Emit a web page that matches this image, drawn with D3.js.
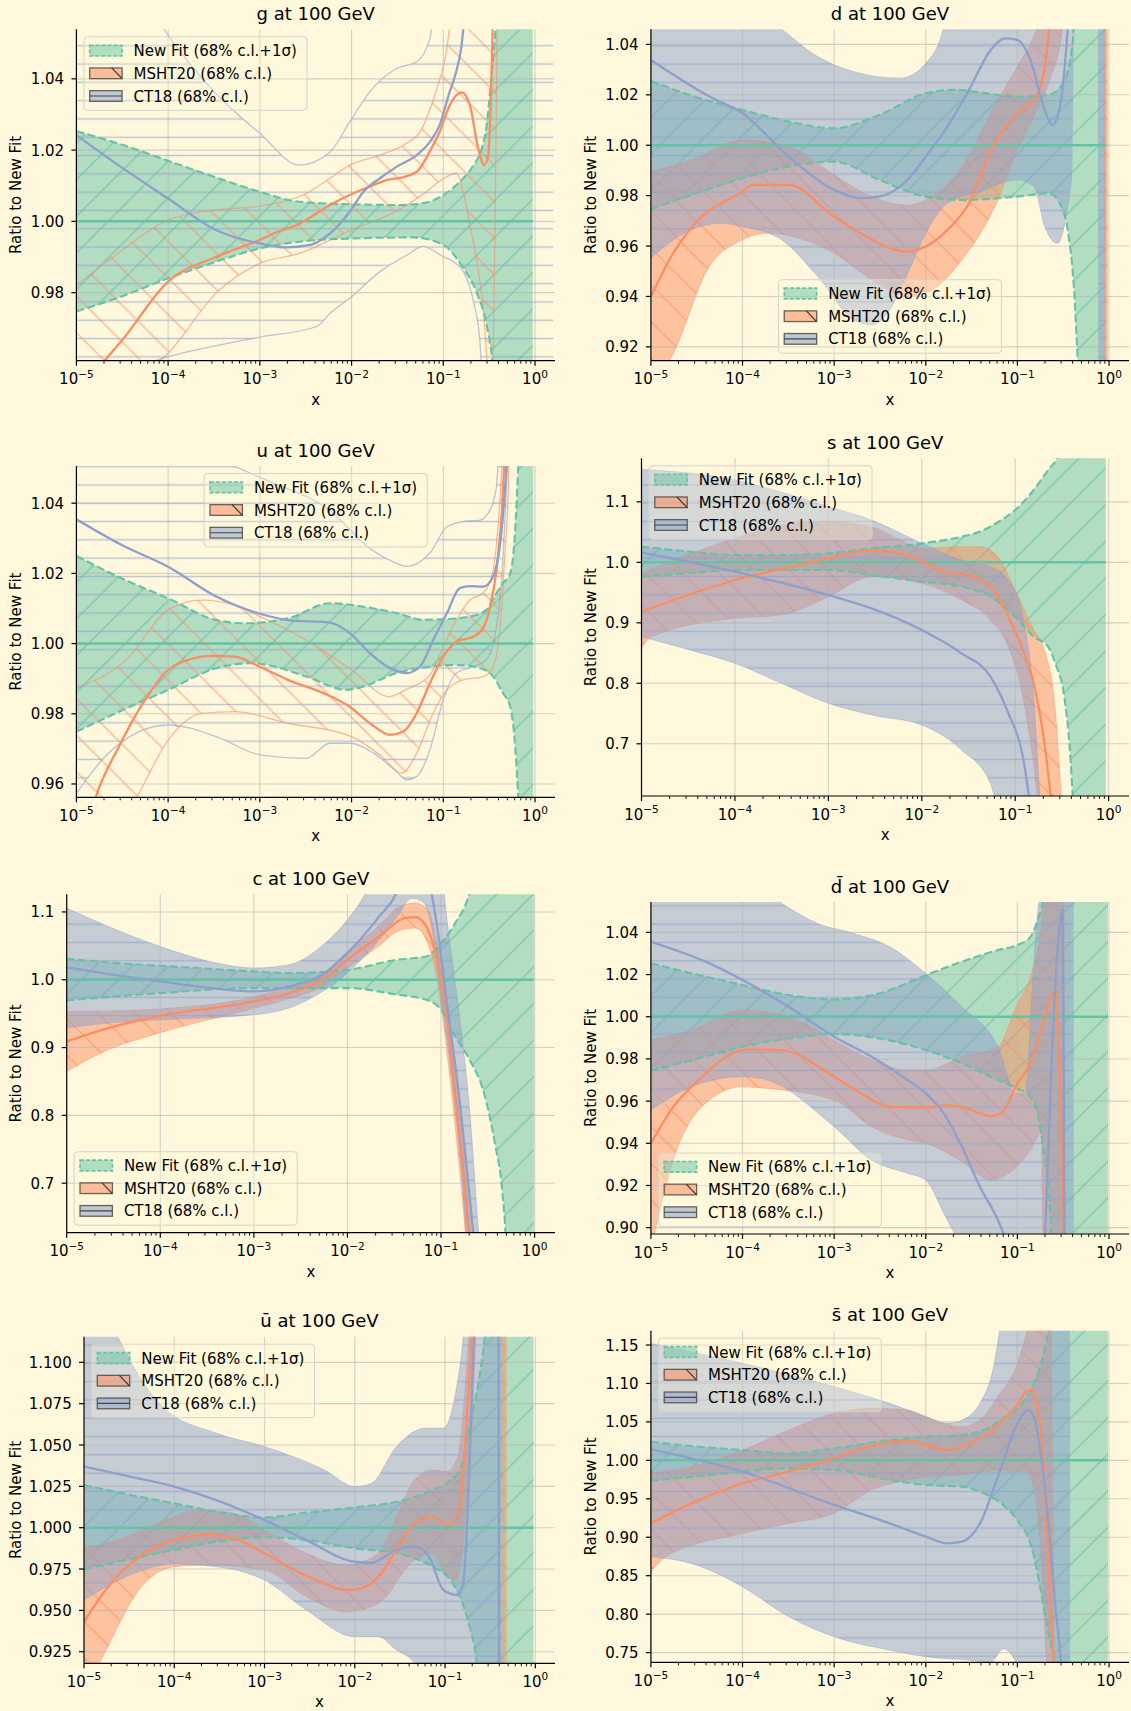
<!DOCTYPE html>
<html>
<head>
<meta charset="utf-8">
<script src="https://cdn.jsdelivr.net/npm/d3@7"></script>
<style>
  html, body { margin: 0; padding: 0; background: #fff8dc; }
  svg { display: block; }
  text { font-family: "DejaVu Sans", sans-serif; fill: #000; }
</style>
</head>
<body>
<svg id="fig" width="1131" height="1711"></svg>
<script>
// Ratio of each PDF set to the New Fit central value, Q = 100 GeV.
// Every series is a list of [log10(x), ratio] pairs.

const xTickExps = [-5, -4, -3, -2, -1, 0];
const legendLabels = ["New Fit (68% c.l.+1\u03c3)", "MSHT20 (68% c.l.)", "CT18 (68% c.l.)"];

// ---------- g ----------
const gTicks = [0.98, 1.00, 1.02, 1.04];
const gNewHi = [[-5,1.0253],[-4.5,1.0215],[-4,1.017],[-3.5,1.0125],[-3,1.0083],[-2.57,1.0055],[-2,1.0048],[-1.5,1.0046],[-1.2,1.0052],[-1,1.0074],[-0.82,1.0111],[-0.67,1.0158],[-0.58,1.0205],[-0.527,1.027],[-0.49,1.0364],[-0.456,1.046],[-0.42,1.058],[-0.38,1.08],[-0.025,1.08]];
const gNewLo = [[-5,0.9747],[-4.5,0.979],[-4,0.984],[-3.5,0.9885],[-3,0.9924],[-2.57,0.9943],[-2,0.9952],[-1.33,0.9955],[-1,0.9934],[-0.78,0.9868],[-0.64,0.9803],[-0.527,0.9709],[-0.47,0.962],[-0.43,0.95],[-0.025,0.95]];
const gMshtC = [[-5,0.952],[-4.69,0.961],[-4.5,0.9667],[-4,0.9831],[-3.48,0.990],[-3,0.9948],[-2.85,0.9966],[-2.57,0.9993],[-2.235,1.0046],[-2.02,1.0074],[-1.76,1.0102],[-1.62,1.0116],[-1.42,1.0125],[-1.27,1.0144],[-1.15,1.0195],[-1.04,1.0251],[-0.93,1.0326],[-0.8,1.0362],[-0.71,1.0326],[-0.62,1.0205],[-0.554,1.0158],[-0.51,1.0186],[-0.484,1.0317],[-0.456,1.06],[-0.43,1.08]];
const gMshtHi = [[-5,0.9821],[-4.6,0.99],[-4,1.0004],[-3.48,1.0032],[-3,1.0043],[-2.49,1.0079],[-2.235,1.0121],[-2.02,1.0158],[-1.69,1.0186],[-1.4,1.0219],[-1.255,1.0251],[-1.07,1.0373],[-0.98,1.0457],[-0.92,1.056],[-0.8,1.07],[-0.4,1.08]];
const gMshtLo = [[-5,0.945],[-4.4,0.955],[-4,0.963],[-3.48,0.9798],[-3,0.9882],[-2.57,0.991],[-2,0.9976],[-1.5,1.003],[-1.2,1.008],[-1,1.012],[-0.855,1.0135],[-0.78,1.008],[-0.71,0.999],[-0.64,0.9896],[-0.565,0.9756],[-0.52,0.96],[-0.47,0.95],[-0.44,0.99],[-0.41,1.06],[-0.4,1.08]];
const gCtC = [[-5,1.0242],[-4.5,1.015],[-4,1.0064],[-3.48,0.9976],[-3,0.9938],[-2.73,0.9927],[-2.45,0.9934],[-2.235,0.9966],[-2.02,1.0027],[-1.87,1.0083],[-1.69,1.0121],[-1.51,1.0153],[-1.29,1.0186],[-1.146,1.0223],[-1.04,1.027],[-0.93,1.0364],[-0.87,1.041],[-0.8,1.0495],[-0.76,1.06]];
const gCtHi = [[-5,1.1],[-4.1,1.056],[-3.48,1.0359],[-3,1.0247],[-2.57,1.0158],[-2.235,1.0195],[-2.02,1.0279],[-1.8,1.0364],[-1.51,1.0429],[-1.29,1.0448],[-1.146,1.0513],[-1.05,1.07],[0.2,1.07]];
const gCtLo = [[-5,0.955],[-4.2,0.9605],[-4,0.962],[-3,0.9675],[-2.38,0.9705],[-2.235,0.9742],[-2.02,0.9784],[-1.69,0.9859],[-1.4,0.9905],[-1.22,0.9929],[-1,0.9901],[-0.89,0.9887],[-0.78,0.9859],[-0.67,0.9774],[-0.6,0.9662],[-0.57,0.955],[0.2,0.955]];

// ---------- d ----------
const dTicks = [0.92, 0.94, 0.96, 0.98, 1.00, 1.02, 1.04];
const dNewHi = [[-5,1.0255],[-4.5,1.019],[-4,1.014],[-3.496,1.0094],[-3,1.0067],[-2.51,1.012],[-2,1.0206],[-1.685,1.022],[-1.213,1.020],[-1,1.0193],[-0.661,1.020],[-0.504,1.0246],[-0.425,1.034],[-0.386,1.046],[-0.36,1.07],[-0.03,1.07]];
const dNewLo = [[-5,0.9746],[-4.5,0.981],[-4,0.9869],[-3.496,0.9915],[-3,0.9935],[-2.51,0.9863],[-2,0.9796],[-1.606,0.9783],[-1,0.9796],[-0.661,0.981],[-0.504,0.9744],[-0.445,0.965],[-0.386,0.945],[-0.327,0.905],[-0.3,0.89],[-0.03,0.89]];
const dMshtC = [[-5,0.940],[-4.756,0.9572],[-4.48,0.9704],[-4,0.9816],[-3.89,0.9843],[-3.496,0.9843],[-3,0.9717],[-2.709,0.9651],[-2.394,0.9592],[-2.197,0.9578],[-2,0.9598],[-1.764,0.9664],[-1.528,0.977],[-1.291,0.9981],[-1,1.0127],[-0.819,1.018],[-0.701,1.0312],[-0.642,1.05],[-0.6,1.07]];
const dMshtHi = [[-5,0.9896],[-4.559,0.9942],[-4,1.0021],[-3.496,0.9995],[-3,0.9882],[-2.591,0.9796],[-2.197,0.9763],[-2,0.9783],[-1.606,0.9915],[-1.213,1.018],[-1,1.0312],[-0.78,1.047],[-0.6,1.07],[-0.055,1.07],[-0.05,1.07],[-0.012,1.07]];
const dMshtLo = [[-5,0.905],[-4.795,0.9146],[-4.362,0.9519],[-4,0.9625],[-3.732,0.9651],[-3,0.9572],[-2.591,0.9466],[-2.197,0.940],[-2,0.9413],[-1.606,0.9545],[-1.213,0.9783],[-1,0.9981],[-0.819,1.0114],[-0.661,1.0246],[-0.504,1.047],[-0.45,1.07],[-0.055,1.07],[-0.05,0.9],[-0.012,0.9]];
const dCtC = [[-5,1.0338],[-4.362,1.0193],[-4,1.0127],[-3.496,0.9955],[-3,0.9823],[-2.709,0.979],[-2.51,0.9796],[-2.197,0.9863],[-2,0.9955],[-1.764,1.0074],[-1.528,1.022],[-1.291,1.0378],[-1.134,1.0424],[-1,1.0418],[-0.858,1.0338],[-0.701,1.014],[-0.622,1.008],[-0.543,1.014],[-0.484,1.031],[-0.445,1.05],[-0.42,1.07]];
const dCtHi = [[-5,1.07],[-3.614,1.047],[-3.181,1.0352],[-2.787,1.0292],[-2.276,1.0266],[-2,1.0325],[-1.803,1.047],[-1.7,1.07],[-0.05,1.07]];
const dCtLo = [[-5,0.9552],[-4.638,0.9651],[-4.244,0.969],[-4,0.9677],[-3.575,0.9625],[-3.181,0.948],[-2.787,0.9307],[-2.591,0.9287],[-2.394,0.9347],[-2.197,0.9492],[-2,0.9651],[-1.764,0.977],[-1.409,0.9816],[-1,0.9863],[-0.819,0.9836],[-0.701,0.9677],[-0.563,0.9611],[-0.465,0.973],[-0.406,0.99],[-0.385,1.07],[-0.115,1.07],[-0.11,0.9],[-0.05,0.9]];

// ---------- u ----------
const uTicks = [0.96, 0.98, 1.00, 1.02, 1.04];
const uNewHi = [[-5,1.025],[-4.5,1.0185],[-4,1.0129],[-3.476,1.0067],[-3.16,1.0058],[-2.69,1.0072],[-2.235,1.0115],[-1.87,1.0105],[-1.51,1.0087],[-1.22,1.0068],[-0.96,1.007],[-0.71,1.0077],[-0.53,1.0096],[-0.42,1.0144],[-0.35,1.0172],[-0.27,1.02],[-0.216,1.0324],[-0.18,1.052],[-0.15,1.07],[-0.02,1.07]];
const uNewLo = [[-5,0.9749],[-4.5,0.981],[-4,0.9868],[-3.476,0.993],[-3.08,0.9944],[-2.49,0.9906],[-2.06,0.9868],[-1.87,0.9878],[-1.51,0.9916],[-1.146,0.9934],[-0.855,0.9939],[-0.6,0.993],[-0.456,0.9906],[-0.35,0.9859],[-0.27,0.982],[-0.216,0.9706],[-0.18,0.955],[-0.15,0.94],[-0.02,0.94]];
const uMshtC = [[-5,0.935],[-4.79,0.9562],[-4.537,0.9706],[-4.25,0.984],[-4,0.9925],[-3.79,0.9953],[-3.515,0.9965],[-3.28,0.9963],[-3,0.9934],[-2.69,0.9896],[-2.3,0.9858],[-2.02,0.982],[-1.8,0.9773],[-1.58,0.974],[-1.44,0.9749],[-1.29,0.9802],[-1.146,0.9887],[-1,0.9963],[-0.855,1.0006],[-0.67,1.002],[-0.565,1.0044],[-0.49,1.0105],[-0.42,1.021],[-0.36,1.038],[-0.32,1.06]];
const uMshtHi = [[-5,0.9873],[-4.458,0.9953],[-4,1.0096],[-3.633,1.0124],[-3.28,1.011],[-3,1.0077],[-2.494,1.001],[-2,0.9925],[-1.591,0.9849],[-1.4,0.987],[-1.146,0.991],[-1,0.9991],[-0.855,1.0068],[-0.71,1.0124],[-0.565,1.0144],[-0.456,1.021],[-0.39,1.038],[-0.34,1.06],[-0.28,1.07]];
const uMshtLo = [[-5,0.93],[-4.34,0.9563],[-4,0.9725],[-3.633,0.9801],[-3.28,0.9806],[-2.69,0.9773],[-2,0.9735],[-1.67,0.9678],[-1.45,0.9631],[-1.29,0.9688],[-1.11,0.9802],[-0.96,0.9868],[-0.78,0.9897],[-0.565,0.9906],[-0.456,0.9934],[-0.38,1.0048],[-0.33,1.025],[-0.29,1.045],[-0.28,1.07]];
const uCtC = [[-5,1.0354],[-4.5,1.028],[-4,1.0219],[-3.476,1.0134],[-3,1.0085],[-2.69,1.0067],[-2.235,1.006],[-2.02,1.003],[-1.8,0.9973],[-1.58,0.993],[-1.4,0.9916],[-1.255,0.9934],[-1.11,1.001],[-0.96,1.0087],[-0.82,1.0158],[-0.71,1.0164],[-0.565,1.0162],[-0.456,1.0191],[-0.38,1.0286],[-0.33,1.0428],[-0.29,1.06]];
const uCtHi = [[-5,1.07],[-3.32,1.051],[-2.69,1.044],[-2.5,1.042],[-2.235,1.038],[-2,1.032],[-1.87,1.0286],[-1.6,1.024],[-1.4,1.022],[-1.146,1.0258],[-0.96,1.0333],[-0.78,1.0348],[-0.6,1.0352],[-0.49,1.0381],[-0.42,1.0447],[-0.38,1.06],[-0.2,1.07]];
const uCtLo = [[-5,0.9573],[-4.654,0.9687],[-4,0.9768],[-3.476,0.9735],[-3,0.9683],[-2.494,0.9673],[-2.235,0.9716],[-2.02,0.9716],[-1.76,0.9688],[-1.51,0.9635],[-1.4,0.9612],[-1.29,0.9621],[-1.146,0.9697],[-1,0.984],[-0.855,0.9916],[-0.67,0.9934],[-0.53,0.9954],[-0.42,1.0048],[-0.35,1.0238],[-0.31,1.045],[-0.28,1.06],[-0.2,1.07]];

// ---------- s ----------
const sTicks = [0.7, 0.8, 0.9, 1.0, 1.1];
const sNewHi = [[-5,1.0259],[-4.5,1.018],[-4,1.0121],[-3.5,1.0121],[-3,1.0149],[-2.539,1.0231],[-2,1.0314],[-1.574,1.0424],[-1.381,1.0507],[-1.2,1.065],[-1,1.0865],[-0.802,1.1196],[-0.648,1.1526],[-0.532,1.178],[-0.45,1.22],[-0.031,1.22]];
const sNewLo = [[-5,0.9763],[-4.5,0.982],[-4,0.9873],[-3,0.9873],[-2.539,0.979],[-2,0.968],[-1.574,0.9598],[-1.265,0.9433],[-1,0.9102],[-0.802,0.8771],[-0.648,0.8606],[-0.571,0.833],[-0.475,0.778],[-0.417,0.695],[-0.378,0.6],[-0.35,0.55],[-0.031,0.55]];
const sMshtC = [[-5,0.9185],[-4.5,0.946],[-4,0.9708],[-3.5,0.989],[-3,1.0066],[-2.539,1.0193],[-2.23,1.0149],[-2,1.0011],[-1.767,0.9846],[-1.458,0.9763],[-1.265,0.9598],[-1.073,0.9102],[-0.918,0.855],[-0.802,0.80],[-0.687,0.7008],[-0.61,0.60]];
const sMshtHi = [[-5,0.9818],[-4.5,1.013],[-4,1.0397],[-3.503,1.0617],[-3,1.0672],[-2.539,1.059],[-2.23,1.0369],[-2,1.0231],[-1.574,1.0259],[-1.381,1.0259],[-1.188,1.0094],[-1,0.9543],[-0.802,0.8882],[-0.687,0.855],[-0.571,0.756],[-0.502,0.61],[-0.48,0.58]];
const sMshtLo = [[-5,0.8579],[-4.892,0.877],[-4,0.9074],[-3.503,0.9129],[-3,0.9433],[-2.539,0.9763],[-2,0.9653],[-1.574,0.9377],[-1.265,0.9047],[-1.073,0.8606],[-0.918,0.778],[-0.802,0.6678],[-0.745,0.60],[-0.48,0.58]];
const sCtC = [[-5,1.0165],[-4,0.9846],[-3,0.946],[-2.539,0.924],[-2,0.8882],[-1.574,0.8496],[-1.265,0.811],[-1.073,0.7504],[-0.918,0.6788],[-0.841,0.60]];
const sCtHi = [[-5,1.1537],[-4,1.1361],[-3.5,1.116],[-3,1.092],[-2.539,1.07],[-2,1.0314],[-1.574,1.0039],[-1.265,0.9928],[-1.073,0.9708],[-0.918,0.9102],[-0.802,0.778],[-0.725,0.60],[-0.7,0.58]];
const sCtLo = [[-5,0.8771],[-4.5,0.856],[-4,0.833],[-3.5,0.80],[-3,0.767],[-2.539,0.7477],[-2,0.7311],[-1.574,0.6898],[-1.265,0.6347],[-1.188,0.60],[-0.7,0.58]];

// ---------- c ----------
const cTicks = [0.7, 0.8, 0.9, 1.0, 1.1];
const cNewHi = [[-5,1.031],[-4.5,1.025],[-4,1.0206],[-3,1.0123],[-2.625,1.0098],[-2,1.0147],[-1.467,1.0295],[-1.158,1.0344],[-1,1.054],[-0.849,1.0835],[-0.695,1.13],[-0.6,1.2],[-0.008,1.2]];
const cNewLo = [[-5,0.9695],[-4,0.9803],[-3,0.9877],[-2,0.9877],[-1.467,0.9779],[-1.158,0.9705],[-1,0.9558],[-0.849,0.9165],[-0.695,0.882],[-0.541,0.833],[-0.425,0.7592],[-0.347,0.6904],[-0.309,0.62],[-0.29,0.55],[-0.008,0.55]];
const cMshtC = [[-5,0.9091],[-4.556,0.9287],[-4,0.9469],[-3,0.968],[-2.625,0.9803],[-2.239,1.0025],[-2,1.0295],[-1.66,1.0639],[-1.39,1.0909],[-1.274,1.0924],[-1.158,1.0786],[-1.042,1.0295],[-0.927,0.9361],[-0.849,0.8329],[-0.772,0.7346],[-0.703,0.6275],[-0.65,0.55]];
const cMshtHi = [[-5,0.9533],[-4.5,0.954],[-4,0.957],[-3,0.975],[-2.625,0.99],[-2.239,1.012],[-2,1.042],[-1.66,1.08],[-1.467,1.1057],[-1.274,1.113],[-1.139,1.1031],[-1.042,1.054],[-0.927,0.9558],[-0.811,0.833],[-0.676,0.6275],[-0.62,0.55]];
const cMshtLo = [[-5,0.8649],[-4.556,0.8968],[-4,0.922],[-3,0.958],[-2.625,0.972],[-2.239,0.992],[-2,1.017],[-1.66,1.05],[-1.467,1.0713],[-1.274,1.0762],[-1.158,1.059],[-1.042,1.0],[-0.927,0.882],[-0.849,0.7838],[-0.741,0.6275],[-0.7,0.55],[-0.62,0.55]];
const cCtC = [[-5,1.0182],[-4,0.9975],[-3,0.9828],[-2.625,0.9902],[-2.239,1.01],[-2,1.0393],[-1.66,1.0934],[-1.467,1.13],[-1.3,1.2],[-1.1,1.126],[-1.042,1.0786],[-0.927,0.9558],[-0.811,0.833],[-0.656,0.6275],[-0.6,0.55]];
const cCtHi = [[-5,1.1057],[-4.556,1.0786],[-4,1.049],[-3.4,1.0246],[-3,1.0172],[-2.625,1.0221],[-2.239,1.054],[-2,1.0885],[-1.815,1.126],[-1.6,1.2],[-1.0,1.2],[-0.965,1.126],[-0.927,1.0786],[-0.811,0.956],[-0.695,0.809],[-0.598,0.6275],[-0.55,0.55]];
const cCtLo = [[-5,0.9287],[-4.556,0.9361],[-4,0.941],[-3,0.9484],[-2.625,0.9582],[-2.239,0.9853],[-2,1.0098],[-1.66,1.059],[-1.467,1.0934],[-1.313,1.12],[-1.197,1.115],[-1.1,1.078],[-1.004,0.98],[-0.888,0.857],[-0.734,0.6275],[-0.7,0.55],[-0.55,0.55]];

// ---------- d-bar ----------
const dbTicks = [0.90, 0.92, 0.94, 0.96, 0.98, 1.00, 1.02, 1.04];
const dbNewHi = [[-5,1.0253],[-4.5,1.02],[-4,1.015],[-3.496,1.0103],[-3,1.0082],[-2.512,1.011],[-2,1.0197],[-1.606,1.0261],[-1.213,1.0316],[-1,1.034],[-0.858,1.0379],[-0.78,1.0458],[-0.72,1.056],[-0.65,1.1],[-0.012,1.1]];
const dbNewLo = [[-5,0.9744],[-4.5,0.980],[-4,0.9858],[-3.496,0.9897],[-3,0.9918],[-2.512,0.9897],[-2,0.9842],[-1.606,0.9779],[-1.213,0.97],[-1,0.966],[-0.858,0.9621],[-0.78,0.9542],[-0.701,0.932],[-0.642,0.9068],[-0.622,0.89],[-0.58,0.85],[-0.012,0.85]];
const dbMshtC = [[-5,0.94],[-4.756,0.9573],[-4.48,0.97],[-4,0.9842],[-3.89,0.9845],[-3.575,0.9842],[-3,0.9716],[-2.709,0.9637],[-2.394,0.9573],[-2,0.957],[-1.764,0.9581],[-1.606,0.9573],[-1.291,0.9529],[-1.173,0.9542],[-1,0.9684],[-0.858,0.978],[-0.74,0.994],[-0.642,1.008],[-0.591,1.0126],[-0.56,0.995],[-0.53,0.962],[-0.504,0.915],[-0.484,0.88]];
const dbMshtHi = [[-5,0.9889],[-4.559,0.9937],[-4,1.0032],[-3.496,1.0],[-3,0.9889],[-2.591,0.9795],[-2.197,0.9747],[-2,0.9747],[-1.606,0.981],[-1.213,0.9858],[-1,1.0063],[-0.858,1.019],[-0.74,1.0427],[-0.7,1.06],[-0.484,1.06]];
const dbMshtLo = [[-5,0.89],[-4.756,0.932],[-4.362,0.9605],[-4,0.9668],[-3.732,0.966],[-3,0.9605],[-2.591,0.9479],[-2.197,0.9416],[-2,0.94],[-1.606,0.9313],[-1.291,0.9226],[-1.094,0.9258],[-0.858,0.9368],[-0.74,0.9447],[-0.72,0.9],[-0.7,0.88],[-0.484,0.88]];
const dbCtC = [[-5,1.0355],[-4.362,1.0253],[-4,1.0174],[-3.496,1.0047],[-3,0.9905],[-2.591,0.981],[-2.197,0.97],[-2,0.9637],[-1.803,0.9542],[-1.606,0.9384],[-1.409,0.9194],[-1.213,0.9036],[-1.134,0.895],[-1.0,0.87],[-0.75,0.87],[-0.701,0.895],[-0.66,0.94],[-0.62,0.985],[-0.58,1.02],[-0.54,1.042],[-0.507,1.051],[-0.495,0.98],[-0.484,0.87]];
const dbCtHi = [[-5,1.1],[-3.654,1.056],[-3.181,1.0442],[-2.787,1.0395],[-2.394,1.0332],[-2,1.0205],[-1.606,1.0047],[-1.213,0.9858],[-1.016,0.9637],[-0.917,0.9637],[-0.819,1.0268],[-0.74,1.06],[-0.386,1.06]];
const dbCtLo = [[-5,0.9558],[-4.559,0.9668],[-4,0.9716],[-3.732,0.97],[-3,0.9479],[-2.591,0.932],[-2.197,0.9258],[-2,0.9226],[-1.803,0.9068],[-1.685,0.897],[-1.5,0.88],[-0.386,0.88]];

// ---------- u-bar ----------
const ubTicks = [0.925, 0.950, 0.975, 1.000, 1.025, 1.050, 1.075, 1.100];
const ubNewHi = [[-5,1.0258],[-4.5,1.02],[-4,1.0147],[-3.534,1.0097],[-3,1.0062],[-2.536,1.0091],[-2,1.0123],[-1.538,1.0157],[-1.138,1.0228],[-0.938,1.0288],[-0.819,1.0369],[-0.739,1.0591],[-0.619,1.0913],[-0.559,1.1155],[-0.5,1.15],[-0.02,1.15]];
const ubNewLo = [[-5,0.9748],[-4.5,0.981],[-4,0.9865],[-3.534,0.9915],[-3,0.9942],[-2.536,0.9925],[-2,0.9875],[-1.538,0.9845],[-1.138,0.9764],[-0.938,0.9683],[-0.819,0.9562],[-0.739,0.9421],[-0.659,0.922],[-0.62,0.90],[-0.02,0.90]];
const ubMshtC = [[-5,0.9431],[-4.732,0.9643],[-4.333,0.9845],[-4,0.9925],[-3.614,0.9956],[-3.335,0.9935],[-3,0.9845],[-2.737,0.9764],[-2.336,0.9663],[-2.097,0.9623],[-1.937,0.9633],[-1.737,0.9704],[-1.538,0.9865],[-1.338,1.0026],[-1.138,1.0067],[-0.978,1.0016],[-0.879,1.0046],[-0.799,1.0329],[-0.739,1.0833],[-0.699,1.12],[-0.65,1.15]];
const ubMshtHi = [[-5,0.9875],[-4.533,0.9946],[-4,1.0067],[-3.734,1.0107],[-3.335,1.0087],[-3,0.9986],[-2.536,0.9845],[-2.097,0.9774],[-1.737,0.9845],[-1.538,1.0067],[-1.338,1.0288],[-1.138,1.0349],[-0.978,1.0339],[-0.859,1.0429],[-0.779,1.0833],[-0.739,1.1155],[-0.7,1.15],[-0.319,1.15]];
const ubMshtLo = [[-5,0.90],[-4.812,0.92],[-4.333,0.9663],[-4,0.9764],[-3.694,0.9774],[-3,0.9744],[-2.536,0.9583],[-2.097,0.9492],[-1.737,0.9542],[-1.338,0.9804],[-1.138,0.9845],[-0.978,0.9704],[-0.879,0.9683],[-0.779,1.0026],[-0.699,1.0631],[-0.659,1.1155],[-0.62,1.15],[-0.364,1.15],[-0.359,0.9],[-0.319,0.9]];
const ubCtC = [[-5,1.0369],[-4.5,1.031],[-4,1.0248],[-3.534,1.0167],[-3,1.0046],[-2.536,0.9925],[-2,0.9794],[-1.817,0.9788],[-1.538,0.9865],[-1.338,0.9885],[-1.178,0.9825],[-1.018,0.9623],[-0.859,0.9593],[-0.799,0.9663],[-0.739,1.0228],[-0.679,1.1155],[-0.6,1.15],[-0.41,1.15],[-0.4,0.9],[-0.39,0.9]];
const ubCtHi = [[-5,1.16],[-4.133,1.0732],[-3.534,1.0571],[-3,1.049],[-2.336,1.0349],[-2,1.0248],[-1.817,1.0268],[-1.538,1.049],[-1.218,1.0601],[-1.018,1.0601],[-0.898,1.0772],[-0.799,1.1155],[-0.75,1.15],[-0.367,1.15]];
const ubCtLo = [[-5,0.9562],[-4.533,0.9704],[-4,0.978],[-3.534,0.9764],[-3,0.9683],[-2.536,0.9502],[-2,0.9341],[-1.737,0.9341],[-1.538,0.926],[-1.338,0.918],[-1.2,0.90],[-0.367,0.90]];

// ---------- s-bar ----------
const sbTicks = [0.75, 0.80, 0.85, 0.90, 0.95, 1.00, 1.05, 1.10, 1.15];
const sbNewHi = [[-5,1.0243],[-4.5,1.018],[-4,1.0134],[-3.496,1.0091],[-3,1.0156],[-2.394,1.0264],[-2,1.0308],[-1.606,1.0329],[-1.37,1.0394],[-1.134,1.0568],[-0.976,1.0698],[-0.858,1.0914],[-0.74,1.1262],[-0.661,1.1686],[-0.6,1.22],[-0.012,1.22]];
const sbNewLo = [[-5,0.9736],[-4.5,0.979],[-4,0.9853],[-3.496,0.9896],[-3,0.9874],[-2.394,0.9744],[-2,0.9679],[-1.606,0.9658],[-1.37,0.9571],[-1.134,0.9398],[-0.976,0.9181],[-0.858,0.892],[-0.78,0.853],[-0.701,0.801],[-0.602,0.7374],[-0.56,0.70],[-0.012,0.70]];
const sbMshtC = [[-5,0.9181],[-4.559,0.9441],[-4,0.9701],[-3.496,0.9853],[-3,1.0026],[-2.512,1.0212],[-2.197,1.0256],[-2,1.0199],[-1.764,1.0134],[-1.606,1.0178],[-1.409,1.0286],[-1.173,1.0503],[-1,1.072],[-0.898,1.0893],[-0.839,1.0906],[-0.78,1.0698],[-0.72,1.0048],[-0.661,0.8747],[-0.602,0.7374],[-0.57,0.70]];
const sbMshtHi = [[-5,0.9831],[-4.559,0.9918],[-4,1.0134],[-3.496,1.0394],[-3,1.0611],[-2.591,1.0676],[-2.197,1.0654],[-2,1.0568],[-1.606,1.0438],[-1.409,1.0524],[-1.213,1.0828],[-1,1.1262],[-0.898,1.1686],[-0.85,1.2],[-0.64,1.2],[-0.6,0.70]];
const sbMshtLo = [[-5,0.8553],[-4.835,0.8748],[-4,0.905],[-3.496,0.9181],[-3,0.9311],[-2.591,0.9614],[-2.197,0.9744],[-2,0.9788],[-1.606,0.9809],[-1.213,0.9874],[-1,0.9853],[-0.898,0.9853],[-0.819,0.9614],[-0.74,0.8747],[-0.681,0.7374],[-0.65,0.70],[-0.6,0.70]];
const sbCtC = [[-5,1.0143],[-4,0.9853],[-3,0.942],[-2.394,0.9181],[-2,0.9008],[-1.764,0.892],[-1.606,0.8943],[-1.409,0.918],[-1.213,0.9788],[-1,1.0481],[-0.878,1.0654],[-0.819,1.0568],[-0.74,1.0048],[-0.661,0.918],[-0.583,0.8093],[-0.524,0.7374],[-0.5,0.70]];
const sbCtHi = [[-5,1.1521],[-4,1.1262],[-3,1.0958],[-2.394,1.0741],[-2,1.0568],[-1.764,1.0481],[-1.606,1.0524],[-1.409,1.0741],[-1.252,1.1262],[-1.193,1.1686],[-1.15,1.2],[-0.425,1.2]];
const sbCtLo = [[-5,0.8747],[-4.559,0.866],[-4,0.8357],[-3.496,0.7967],[-3,0.7707],[-2.394,0.7533],[-2,0.7447],[-1.528,0.7403],[-1.291,0.7374],[-1.154,0.755],[-1.016,0.737],[-0.95,0.70],[-0.425,0.70]];

// ---------- figure layout ----------
const BG = "#fff8dc";
const GREEN = "#66c2a5", ORANGE = "#fc8d62", BLUE = "#8da0cb";
const X_MAX = Math.pow(10, 0.218);
const LEFT_R = 555, RIGHT_R = 1129;

const panels = [
  { title: "g at 100 GeV", box: [76.4, LEFT_R, 29.3, 360.7], yDomain: [0.9609, 1.0539], ticks: gTicks, fmt: ".2f", filled: false, legend: "ul", labelX: 16,
    newHi: gNewHi, newLo: gNewLo, mshtC: gMshtC, mshtHi: gMshtHi, mshtLo: gMshtLo, ctC: gCtC, ctHi: gCtHi, ctLo: gCtLo },
  { title: "d at 100 GeV", box: [650.9, RIGHT_R, 29.3, 360.7], yDomain: [0.9145, 1.046], ticks: dTicks, fmt: ".2f", filled: true, legend: "lc", labelX: 591,
    newHi: dNewHi, newLo: dNewLo, mshtC: dMshtC, mshtHi: dMshtHi, mshtLo: dMshtLo, ctC: dCtC, ctHi: dCtHi, ctLo: dCtLo },
  { title: "u at 100 GeV", box: [76.4, LEFT_R, 466, 797.3], yDomain: [0.9562, 1.0506], ticks: uTicks, fmt: ".2f", filled: false, legend: "uc", labelX: 16,
    newHi: uNewHi, newLo: uNewLo, mshtC: uMshtC, mshtHi: uMshtHi, mshtLo: uMshtLo, ctC: uCtC, ctHi: uCtHi, ctLo: uCtLo },
  { title: "s at 100 GeV", box: [641.5, RIGHT_R, 458.3, 796], yDomain: [0.6137, 1.172], ticks: sTicks, fmt: ".1f", filled: true, legend: "ul", labelX: 591,
    newHi: sNewHi, newLo: sNewLo, mshtC: sMshtC, mshtHi: sMshtHi, mshtLo: sMshtLo, ctC: sCtC, ctHi: sCtHi, ctLo: sCtLo },
  { title: "c at 100 GeV", box: [66.7, LEFT_R, 894.3, 1232.7], yDomain: [0.627, 1.126], ticks: cTicks, fmt: ".1f", filled: true, legend: "ll", labelX: 16,
    newHi: cNewHi, newLo: cNewLo, mshtC: cMshtC, mshtHi: cMshtHi, mshtLo: cMshtLo, ctC: cCtC, ctHi: cCtHi, ctLo: cCtLo },
  { title: "d\u0304 at 100 GeV", box: [650.9, RIGHT_R, 902, 1234], yDomain: [0.897, 1.0544], ticks: dbTicks, fmt: ".2f", filled: true, legend: "ll", labelX: 591,
    newHi: dbNewHi, newLo: dbNewLo, mshtC: dbMshtC, mshtHi: dbMshtHi, mshtLo: dbMshtLo, ctC: dbCtC, ctHi: dbCtHi, ctLo: dbCtLo },
  { title: "\u016b at 100 GeV", box: [84, LEFT_R, 1336.7, 1663.3], yDomain: [0.918, 1.1155], ticks: ubTicks, fmt: ".3f", filled: true, legend: "ul", labelX: 16,
    newHi: ubNewHi, newLo: ubNewLo, mshtC: ubMshtC, mshtHi: ubMshtHi, mshtLo: ubMshtLo, ctC: ubCtC, ctHi: ubCtHi, ctLo: ubCtLo },
  { title: "s\u0304 at 100 GeV", box: [650.9, RIGHT_R, 1330.7, 1662.3], yDomain: [0.7374, 1.1686], ticks: sbTicks, fmt: ".2f", filled: true, legend: "ul", labelX: 591,
    newHi: sbNewHi, newLo: sbNewLo, mshtC: sbMshtC, mshtHi: sbMshtHi, mshtLo: sbMshtLo, ctC: sbCtC, ctHi: sbCtHi, ctLo: sbCtLo }
];

const svg = d3.select("#fig");
svg.append("rect").attr("width", 1131).attr("height", 1711).attr("fill", BG);
const defs = svg.append("defs");

// hatch patterns: '/' for New Fit, '\' for MSHT20, '-' for CT18
function hatch(id, color, kind, opacity) {
  const S = kind === "-" ? 18.3 : 36.6;
  let d;
  if (kind === "-") d = `M0,${S / 2} H${S}`;
  else if (kind === "/") d = `M0,${S} L${S},0 M${-S / 2},${S / 2} L${S / 2},${-S / 2} M${S / 2},${1.5 * S} L${1.5 * S},${S / 2}`;
  else d = `M0,0 L${S},${S} M${-S / 2},${S / 2} L${S / 2},${1.5 * S} M${S / 2},${-S / 2} L${1.5 * S},${S / 2}`;
  defs.append("pattern").attr("id", id).attr("patternUnits", "userSpaceOnUse")
    .attr("width", S).attr("height", S)
    .append("path").attr("d", d).attr("fill", "none")
    .attr("stroke", color).attr("stroke-width", 1.4).attr("stroke-opacity", opacity);
}
hatch("hatchGreen", GREEN, "/", 0.7);
hatch("hatchOrange", ORANGE, "\\", 0.6);
hatch("hatchBlue", BLUE, "-", 0.6);

panels.forEach((p, i) => {
  const [L, R, T, B] = p.box;
  const x = d3.scaleLog().domain([1e-5, X_MAX]).range([L, R]);
  const y = d3.scaleLinear().domain(p.yDomain).range([B, T]);
  const ln = d3.line().x(d => x(Math.pow(10, d[0]))).y(d => y(d[1])).curve(d3.curveMonotoneX);
  const area = (lo, hi) => ln(hi) + "L" + ln(lo.slice().reverse()).slice(1) + "Z";

  const cid = "clip" + i;
  defs.append("clipPath").attr("id", cid).append("rect")
    .attr("x", L).attr("y", T).attr("width", R - L).attr("height", B - T);

  const root = svg.append("g");
  const plot = root.append("g").attr("clip-path", `url(#${cid})`);

  // New Fit band
  const nb = area(p.newLo, p.newHi);
  plot.append("path").attr("d", nb).attr("fill", GREEN).attr("fill-opacity", 0.5);
  plot.append("path").attr("d", nb).attr("fill", "url(#hatchGreen)");

  // comparison bands
  function band(lo, hi, color, pat) {
    const d = area(lo, hi);
    if (p.filled) plot.append("path").attr("d", d).attr("fill", color).attr("fill-opacity", 0.5);
    plot.append("path").attr("d", d).attr("fill", `url(#${pat})`);
    [lo, hi].forEach(s => plot.append("path").attr("d", ln(s)).attr("fill", "none")
      .attr("stroke", color).attr("stroke-width", p.filled ? 1 : 1.3)
      .attr("stroke-opacity", p.filled ? 0.45 : 0.6));
  }
  band(p.mshtLo, p.mshtHi, ORANGE, "hatchOrange");
  band(p.ctLo, p.ctHi, BLUE, "hatchBlue");

  // grid
  const grid = plot.append("g").attr("stroke", "#b0b0b0").attr("stroke-opacity", 0.55).attr("stroke-width", 1.1);
  xTickExps.forEach(e => grid.append("line").attr("x1", x(Math.pow(10, e))).attr("x2", x(Math.pow(10, e))).attr("y1", T).attr("y2", B));
  p.ticks.forEach(v => grid.append("line").attr("x1", L).attr("x2", R).attr("y1", y(v)).attr("y2", y(v)));

  // New Fit central value and its dashed envelope
  const xEnd = p.newHi[p.newHi.length - 1][0];
  plot.append("line").attr("x1", x(1e-5)).attr("x2", x(Math.pow(10, xEnd)))
    .attr("y1", y(1)).attr("y2", y(1)).attr("stroke", GREEN).attr("stroke-width", 2.5);
  [p.newHi, p.newLo].forEach(s => plot.append("path").attr("d", ln(s)).attr("fill", "none")
    .attr("stroke", GREEN).attr("stroke-width", 2.1).attr("stroke-dasharray", "8,3.5"));

  // central values of the comparison sets
  plot.append("path").attr("d", ln(p.mshtC)).attr("fill", "none").attr("stroke", ORANGE).attr("stroke-width", 2.3);
  plot.append("path").attr("d", ln(p.ctC)).attr("fill", "none").attr("stroke", BLUE).attr("stroke-width", 2.3);

  // axes
  const ax = root.append("g").attr("stroke", "#000");
  ax.append("line").attr("x1", L).attr("x2", R).attr("y1", B).attr("y2", B).attr("stroke-width", 1.2);
  ax.append("line").attr("x1", L).attr("x2", L).attr("y1", T).attr("y2", B).attr("stroke-width", 1.2);
  xTickExps.forEach(e => {
    const xv = x(Math.pow(10, e));
    ax.append("line").attr("x1", xv).attr("x2", xv).attr("y1", B).attr("y2", B + 5).attr("stroke-width", 1.2);
    if (e < 0) for (let k = 2; k <= 9; k++) {
      const xm = x(k * Math.pow(10, e));
      ax.append("line").attr("x1", xm).attr("x2", xm).attr("y1", B).attr("y2", B + 3).attr("stroke-width", 0.9);
    }
    const t = root.append("text").attr("x", xv).attr("y", B + 23.5).attr("text-anchor", "middle").attr("font-size", 15);
    t.append("tspan").text("10");
    t.append("tspan").attr("font-size", 10.5).attr("dy", -6.5).text(e < 0 ? "\u2212" + (-e) : "0");
  });
  const fmt = d3.format(p.fmt);
  p.ticks.forEach(v => {
    ax.append("line").attr("x1", L - 5).attr("x2", L).attr("y1", y(v)).attr("y2", y(v)).attr("stroke-width", 1.2);
    root.append("text").attr("x", L - 12.3).attr("y", y(v) + 5.5).attr("text-anchor", "end")
      .attr("font-size", 15).text(fmt(v));
  });

  // labels
  root.append("text").attr("x", (L + R) / 2).attr("y", T - 9.3).attr("text-anchor", "middle")
    .attr("font-size", 18).text(p.title);
  root.append("text").attr("x", (L + R) / 2).attr("y", B + 44).attr("text-anchor", "middle")
    .attr("font-size", 15).text("x");
  root.append("text").attr("transform", `translate(${p.labelX},${(T + B) / 2}) rotate(-90)`)
    .attr("text-anchor", "middle").attr("dy", "0.35em").attr("font-size", 15).text("Ratio to New Fit");

  // legend
  const W = 223, H = 73.5, pad = 7.5;
  let lx, ly;
  if (p.legend === "ul") { lx = L + pad; ly = T + pad; }
  else if (p.legend === "uc") { lx = (L + R) / 2 - W / 2; ly = T + pad; }
  else if (p.legend === "lc") { lx = (L + R) / 2 - W / 2; ly = B - pad - H; }
  else { lx = L + pad; ly = B - pad - H; }
  const lg = root.append("g");
  lg.append("rect").attr("x", lx).attr("y", ly).attr("width", W).attr("height", H).attr("rx", 3.5)
    .attr("fill", BG).attr("fill-opacity", 0.3).attr("stroke", "#d2d2d2").attr("stroke-width", 1);
  legendLabels.forEach((lab, k) => {
    const cy = ly + 13.8 + k * 22.7;
    const hx = lx + 5.8, hw = 32.4, hh = 10.7, hy = cy - hh / 2;
    if (k === 0) {
      lg.append("rect").attr("x", hx).attr("y", hy).attr("width", hw).attr("height", hh)
        .attr("fill", GREEN).attr("fill-opacity", 0.5)
        .attr("stroke", GREEN).attr("stroke-width", 1.6).attr("stroke-dasharray", "4,2");
    } else {
      const col = k === 1 ? ORANGE : BLUE;
      lg.append("rect").attr("x", hx).attr("y", hy).attr("width", hw).attr("height", hh)
        .attr("fill", col).attr("fill-opacity", 0.55)
        .attr("stroke", "#444").attr("stroke-opacity", 0.8).attr("stroke-width", 1.3);
      if (k === 1) lg.append("line").attr("x1", hx + hw * 0.68).attr("y1", hy).attr("x2", hx + hw).attr("y2", hy + hh)
        .attr("stroke", "#333").attr("stroke-width", 1.2);
      else lg.append("line").attr("x1", hx).attr("y1", cy).attr("x2", hx + hw).attr("y2", cy)
        .attr("stroke", "#444").attr("stroke-width", 1.1);
    }
    lg.append("text").attr("x", lx + 49.7).attr("y", cy + 5.5).attr("font-size", 15).text(lab);
  });
});
</script>
</body>
</html>
